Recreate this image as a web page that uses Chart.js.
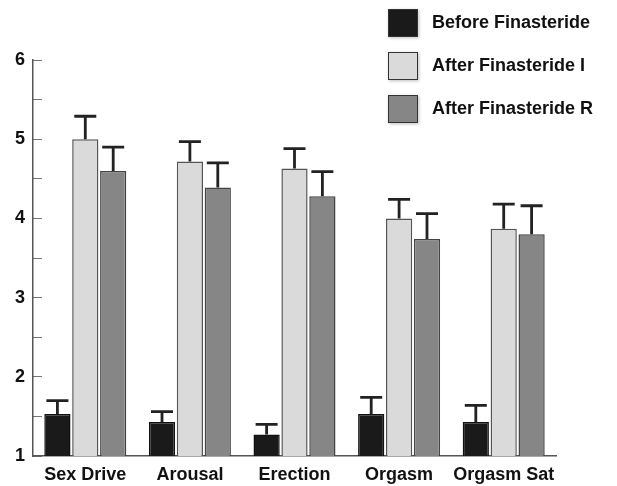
<!DOCTYPE html>
<html lang="en">
<head>
  <meta charset="UTF-8">
  <title>Finasteride</title>
  <script src="https://cdn.jsdelivr.net/npm/chart.js"></script>
  <style>
    body { margin: 0; background: #fff; }
    #wrap { width: 617px; height: 486px; }
  </style>
</head>
<body>
  <div id="wrap"><canvas id="chart" width="617" height="486"></canvas></div>
  <script>
    // data
    const categories = ['Sex Drive', 'Arousal', 'Erection', 'Orgasm', 'Orgasm Sat'];
    const seriesNames = ['Before Finasteride', 'After Finasteride I', 'After Finasteride R'];
    const before = [1.53, 1.43, 1.27, 1.53, 1.43];
    const beforeErr = [0.17, 0.13, 0.13, 0.21, 0.21];
    const afterI = [5.00, 4.72, 4.63, 4.00, 3.87];
    const afterIErr = [0.29, 0.25, 0.25, 0.24, 0.31];
    const afterR = [4.60, 4.39, 4.28, 3.74, 3.80];
    const afterRErr = [0.30, 0.31, 0.31, 0.32, 0.36];
    const yTickLabels = ['1', '2', '3', '4', '5', '6'];

    const FONT = 'Liberation Sans, Arial, sans-serif';

    // upward error bars drawn through the y scale
    const errorBars = {
      id: 'errorBars',
      afterDatasetsDraw(chart) {
        const ctx = chart.ctx;
        const y = chart.scales.y;
        ctx.save();
        ctx.strokeStyle = '#222';
        ctx.lineWidth = 2.8;
        chart.data.datasets.forEach((ds, i) => {
          const meta = chart.getDatasetMeta(i);
          meta.data.forEach((bar, j) => {
            const top = y.getPixelForValue(ds.data[j] + ds.errors[j]);
            ctx.beginPath();
            ctx.moveTo(bar.x, bar.y);
            ctx.lineTo(bar.x, top);
            ctx.moveTo(bar.x - 11, top);
            ctx.lineTo(bar.x + 11, top);
            ctx.stroke();
          });
        });
        ctx.restore();
      }
    };

    // legend boxes at top right
    const boxLegend = {
      id: 'boxLegend',
      afterDraw(chart) {
        const ctx = chart.ctx;
        ctx.save();
        chart.data.datasets.forEach((ds, i) => {
          const top = 9 + i * 43;
          ctx.shadowColor = 'rgba(0,0,0,0.25)';
          ctx.shadowBlur = 3;
          ctx.shadowOffsetX = 1;
          ctx.shadowOffsetY = 1;
          ctx.fillStyle = ds.backgroundColor;
          ctx.fillRect(388, top, 30, 28);
          ctx.shadowColor = 'transparent';
          ctx.strokeStyle = '#333';
          ctx.lineWidth = 1;
          ctx.strokeRect(388.5, top + 0.5, 29, 27);
          ctx.fillStyle = '#111';
          ctx.font = 'bold 18px ' + FONT;
          ctx.textBaseline = 'middle';
          ctx.fillText(ds.label, 432, top + 14);
        });
        ctx.restore();
      }
    };

    new Chart(document.getElementById('chart'), {
      type: 'bar',
      data: {
        labels: categories,
        datasets: [
          { label: seriesNames[0], data: before, errors: beforeErr, backgroundColor: '#1a1a1a', borderColor: '#111', borderWidth: 1.5 },
          { label: seriesNames[1], data: afterI, errors: afterIErr, backgroundColor: '#dadada', borderColor: '#555', borderWidth: 1.5 },
          { label: seriesNames[2], data: afterR, errors: afterRErr, backgroundColor: '#868686', borderColor: '#444', borderWidth: 1.5 }
        ]
      },
      options: {
        responsive: false,
        animation: false,
        layout: { padding: { top: 60, right: 61, left: 0, bottom: 0 } },
        datasets: { bar: { categoryPercentage: 0.8, barPercentage: 0.94 } },
        plugins: { legend: { display: false }, tooltip: { enabled: false } },
        scales: {
          x: {
            grid: { display: false, drawTicks: false },
            border: { display: true, color: '#555', width: 1.5 },
            ticks: {
              color: '#111', font: { family: FONT, size: 18, weight: 'bold' },
              padding: 8, maxRotation: 0, minRotation: 0, autoSkip: false
            },
            afterFit(s) { s.height = 30; }
          },
          y: {
            min: 1, max: 6,
            grid: { drawOnChartArea: false, drawTicks: true, tickLength: -9, color: '#777', lineWidth: 1 },
            border: { display: true, color: '#555', width: 1.5 },
            ticks: {
              stepSize: 0.5,
              color: '#111',
              padding: 17,
              font: { family: FONT, size: 18, weight: 'bold' },
              callback: (v) => Number.isInteger(v) ? yTickLabels[v - 1] : ''
            },
            afterFit(s) { s.width = 33; }
          }
        }
      },
      plugins: [errorBars, boxLegend]
    });
  </script>
</body>
</html>
